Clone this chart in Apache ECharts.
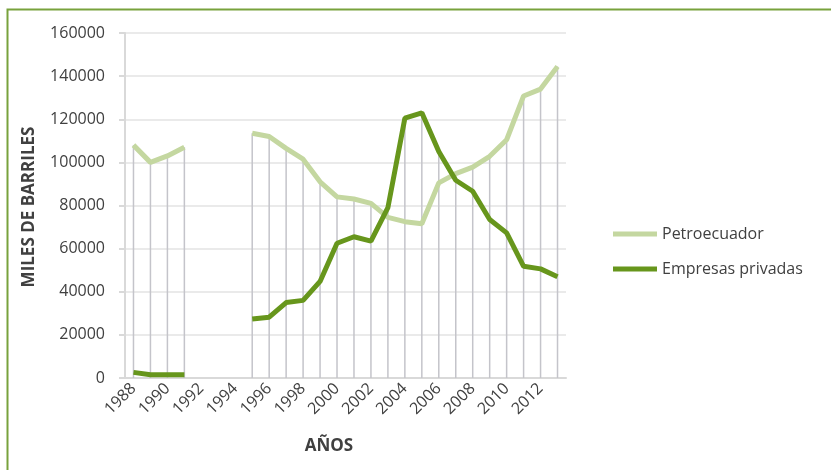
<!DOCTYPE html>
<html>
<head>
<meta charset="utf-8">
<script src="https://cdn.jsdelivr.net/npm/echarts@6/dist/echarts.min.js"></script>
<style>
html, body { margin: 0; padding: 0; background: #fff; }
#chart { width: 831px; height: 470px; }
</style>
</head>
<body>
<div id="chart"></div>
<script>
// años 1988 - 2013, sin datos 1992-1994
var years = ['1988','1989','1990','1991','1992','1993','1994','1995','1996','1997','1998','1999','2000',
             '2001','2002','2003','2004','2005','2006','2007','2008','2009','2010','2011','2012','2013'];
var petroecuador = [108000, 100000, 103000, 107000, null, null, null, 113500, 112000, 106500, 101500, 91000, 84000,
                    83000, 81000, 74500, 72500, 71500, 90500, 94800, 97800, 102800, 110500, 130800, 134000, 144500];
var privadas = [2600, 1500, 1500, 1500, null, null, null, 27400, 28200, 35000, 36000, 44800, 62500,
                65500, 63500, 79000, 120500, 123000, 105000, 91700, 86600, 73500, 67300, 51800, 50600, 47000];
var yTicks = [0, 20000, 40000, 60000, 80000, 100000, 120000, 140000, 160000];

// lineas de caida (de cada punto hasta el eje)
var dropLines = years.map(function (y, i) {
    var a = petroecuador[i], b = privadas[i];
    if (a == null && b == null) return null;
    return Math.max(a || 0, b || 0);
});

var chart = echarts.init(document.getElementById('chart'));
var font = '"Open Sans", "Noto Sans", sans-serif';
var option = {
    backgroundColor: '#ffffff',
    animation: false,
    textStyle: { fontFamily: font },
    grid: { left: 125, right: 265, top: 33, bottom: 92 },
    legend: {
        data: ['Petroecuador', 'Empresas privadas'],
        orient: 'vertical',
        left: 613,
        top: 226,
        padding: 0,
        icon: 'rect',
        itemWidth: 44,
        itemHeight: 5,
        itemGap: 19,
        textStyle: { fontSize: 16, color: '#404040', fontFamily: font }
    },
    xAxis: {
        type: 'category',
        data: years,
        boundaryGap: true,
        axisLine: { lineStyle: { color: '#d9d9d9', width: 2 } },
        axisTick: { show: false },
        axisLabel: {
            interval: 1,
            rotate: 45,
            fontSize: 16,
            color: '#404040',
            margin: 8,
            fontFamily: font
        },
        splitLine: { show: false }
    },
    yAxis: {
        type: 'value',
        min: yTicks[0],
        max: yTicks[yTicks.length - 1],
        interval: 20000,
        axisLine: { show: true, lineStyle: { color: '#d9d9d9', width: 2 } },
        axisTick: { show: true, length: 6, lineStyle: { color: '#d9d9d9', width: 2 } },
        axisLabel: {
            fontSize: 16, color: '#404040', margin: 20, fontFamily: font,
            formatter: function (v) { return String(v); }
        },
        splitLine: { lineStyle: { color: '#e3e3e3', width: 1.5 } }
    },
    graphic: [
        {
            type: 'polyline',
            shape: { points: [[7.5, 470], [7.5, 9.5], [831, 9.5]] },
            style: { stroke: '#78a23c', lineWidth: 2, fill: null },
            silent: true
        },
        {
            type: 'text',
            x: 29, y: 207,
            rotation: Math.PI / 2,
            style: {
                text: 'MILES DE BARRILES',
                font: 'bold 17px ' + font,
                fill: '#404040',
                textAlign: 'center',
                textVerticalAlign: 'middle'
            }
        },
        {
            type: 'text',
            x: 329, y: 446,
            style: {
                text: 'AÑOS',
                font: 'bold 17px ' + font,
                fill: '#404040',
                textAlign: 'center',
                textVerticalAlign: 'middle'
            }
        }
    ],
    series: [
        {
            name: 'caida',
            type: 'bar',
            data: dropLines,
            barWidth: 1.5,
            itemStyle: { color: '#c4c4ca' },
            z: 1,
            silent: true
        },
        {
            name: 'Petroecuador',
            type: 'line',
            data: petroecuador,
            showSymbol: false,
            connectNulls: false,
            lineStyle: { color: '#c4d7a0', width: 5 },
            itemStyle: { color: '#c4d7a0' },
            z: 3
        },
        {
            name: 'Empresas privadas',
            type: 'line',
            data: privadas,
            showSymbol: false,
            connectNulls: false,
            lineStyle: { color: '#67961c', width: 5 },
            itemStyle: { color: '#67961c' },
            z: 4
        }
    ]
};
chart.setOption(option);
</script>
</body>
</html>
